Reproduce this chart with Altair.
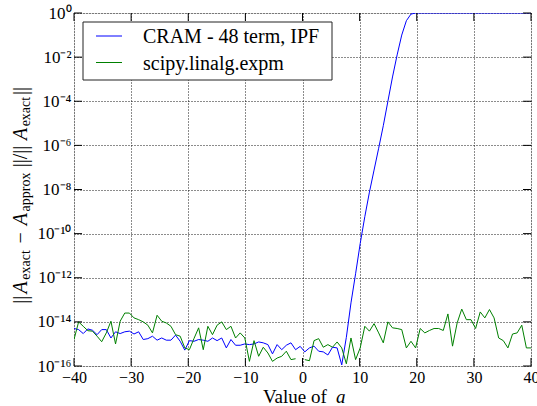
import altair as alt
import numpy as np
import pandas as pd

# ---------------- data ----------------
a_values = np.linspace(-40, 40, 100)

# log10 of the relative error
cram_log10 = [
    -14.30, -14.35, -14.53, -14.32, -14.38, -14.58, -14.35, -14.35, -14.73, -14.45,
    -14.53, -14.45, -14.42, -14.55, -14.45, -14.80, -14.76, -14.65, -14.83, -14.73,
    -14.83, -14.83, -14.60, -14.88, -15.28, -14.85, -14.88, -14.80, -14.83, -14.88,
    -14.73, -14.85, -14.73, -15.18, -14.80, -15.06, -15.06, -15.00, -15.03, -15.00,
    -14.91, -14.95, -15.03, -15.45, -15.03, -15.26, -15.06, -14.95, -15.26, -15.11,
    -15.36, -15.18, -15.10, -15.33, -15.36, -15.50, -15.15, -15.18, -15.95, -14.70,
    -13.14, -11.82, -10.45, -9.23, -8.12, -7.12, -6.13, -5.11, -4.00, -2.90,
    -1.90, -1.00, -0.35, -0.05, 0.0, 0.0, 0.0, 0.0, 0.0, 0.0,
    0.0, 0.0, 0.0, 0.0, 0.0, 0.0, 0.0, 0.0, 0.0, 0.0,
    0.0, 0.0, 0.0, 0.0, 0.0, 0.0, 0.0, 0.0, 0.0, 0.0,
]
expm_log10 = [
    -14.80, -14.00, -14.20, -14.40, -14.42, -14.65, -14.90, -14.50, -13.97, -15.00,
    -13.97, -13.60, -13.60, -13.82, -13.90, -14.00, -14.15, -14.50, -13.70, -13.97,
    -14.05, -14.20, -14.58, -14.65, -15.18, -15.26, -14.75, -14.27, -15.26, -14.20,
    -14.58, -14.15, -14.00, -14.35, -14.20, -14.73, -14.50, -14.73, -15.79, -14.85,
    -15.56, -15.15, -15.41, -15.79, -15.64, -15.56, -15.33, -15.71, -15.67, None,
    -15.71, -15.76, -14.85, -14.76, -15.15, -15.03, -15.15, -14.91, -15.18, -15.90,
    -14.73, -15.71, -15.18, -14.20, -14.42, -14.08, -14.50, -14.95, -14.00, -14.27,
    -14.30, -14.35, -15.18, -14.88, -15.18, -14.30, -14.50, -14.39, -14.30, -14.30,
    -14.39, -13.64, -15.10, -14.05, -13.42, -13.90, -13.90, -14.30, -13.55, -13.82,
    -13.44, -13.82, -14.73, -14.85, -15.18, -14.55, -14.50, -14.15, -15.18, -15.18,
]

series_names = ["CRAM - 48 term, IPF", "scipy.linalg.expm"]
series_colors = ["#0000ff", "#008000"]

x_ticks = [-40, -30, -20, -10, 0, 10, 20, 30, 40]
y_tick_exps = [0, -2, -4, -6, -8, -10, -12, -14, -16]
y_tick_labels = ["10⁰", "10⁻²", "10⁻⁴", "10⁻⁶", "10⁻⁸", "10⁻¹⁰", "10⁻¹²", "10⁻¹⁴", "10⁻¹⁶"]

# ---------------- build table ----------------
rows = []
for name, logs in zip(series_names, [cram_log10, expm_log10]):
    for a, l in zip(a_values, logs):
        rows.append({"a": float(a), "err": None if l is None else 10.0 ** l, "series": name})
df = pd.DataFrame(rows)

FONT = "Liberation Serif"
W, H = 457, 353
y_tick_vals = [10.0 ** e for e in y_tick_exps]
label_expr = "[" + ",".join("'%s'" % s for s in y_tick_labels) + "][round(-log(datum.value)/LN10/2)]"

xscale = alt.Scale(domain=[-40, 40], nice=False, zero=False)
yscale = alt.Scale(type="log", domain=[1e-16, 1], nice=False)

x_axis = alt.Axis(values=x_ticks, title=None, grid=True, ticks=False, domain=False,
                  labelFont=FONT, labelFontSize=16, labelColor="black", labelPadding=3,
                  gridColor="black", gridDash=[1, 2], gridOpacity=0.9, gridWidth=1,
                  labelFlush=False, labelOverlap=False)
y_axis = alt.Axis(values=y_tick_vals, labelExpr=label_expr, title=None, grid=True, ticks=False,
                  domain=False, labelFont=FONT, labelFontSize=17, labelColor="black",
                  labelPadding=3, gridColor="black", gridDash=[1, 2], gridOpacity=0.9,
                  gridWidth=1, labelOverlap=False)

lines = alt.Chart(df).mark_line(strokeWidth=1, clip=True, invalid="break-paths-filter-domains").encode(
    x=alt.X("a:Q", scale=xscale, axis=x_axis),
    y=alt.Y("err:Q", scale=yscale, axis=y_axis),
    color=alt.Color("series:N", scale=alt.Scale(domain=series_names, range=series_colors), legend=None),
    order="a:Q",
)

xt = pd.DataFrame({"t": x_ticks})
yt = pd.DataFrame({"v": y_tick_vals})
tick_len = 8
xt_bottom = alt.Chart(xt).mark_rule(color="black", strokeWidth=1).encode(
    x=alt.X("t:Q", scale=xscale, axis=x_axis), y=alt.value(H), y2=alt.value(H - tick_len))
xt_top = alt.Chart(xt).mark_rule(color="black", strokeWidth=1).encode(
    x=alt.X("t:Q", scale=xscale, axis=x_axis), y=alt.value(0), y2=alt.value(tick_len))
yt_left = alt.Chart(yt).mark_rule(color="black", strokeWidth=1).encode(
    y=alt.Y("v:Q", scale=yscale, axis=y_axis), x=alt.value(0), x2=alt.value(tick_len))
yt_right = alt.Chart(yt).mark_rule(color="black", strokeWidth=1).encode(
    y=alt.Y("v:Q", scale=yscale, axis=y_axis), x=alt.value(W - tick_len), x2=alt.value(W))

# ---------------- text pieces (titles with sub-scripts / italics, legend) ----------------
one = pd.DataFrame({"k": [0]})

def piece(text, x, y, size=20, style="normal", angle=0, align="center"):
    return alt.Chart(one).mark_text(
        text=text, font=FONT, fontSize=size, fontStyle=style, angle=angle,
        align=align, baseline="alphabetic", color="black").encode(x=alt.value(x), y=alt.value(y))

# y title pieces (rotated, reading upward), centred in their slots
yb, ys = -47, -44
ytitle = [
    piece("||", yb, 286.7, angle=270),
    piece("A", yb, 274.3, style="italic", angle=270),
    piece("exact", ys, 251.9, size=14, angle=270),
    piece("−", yb, 224.9, angle=270),
    piece("A", yb, 206.2, style="italic", angle=270),
    piece("approx", ys, 179.0, size=14, angle=270),
    piece("||/||", yb, 143.5, angle=270),
    piece("A", yb, 121.0, style="italic", angle=270),
    piece("exact", ys, 98.6, size=14, angle=270),
    piece("||", yb, 77.9, angle=270),
]
xtitle = [
    piece("Value of", 189, 389.5, size=19, align="left"),
    piece("a", 262, 389.5, size=19, style="italic", align="left"),
]

# legend box
legend_box = alt.Chart(one).mark_rect(fill="white", stroke="#222222", strokeWidth=1).encode(
    x=alt.value(9), x2=alt.value(258), y=alt.value(9), y2=alt.value(67))
legend_items = [legend_box]
for i, (name, col) in enumerate(zip(series_names, series_colors)):
    ly = 23 + 26.5 * i
    legend_items.append(alt.Chart(one).mark_rule(color=col, strokeWidth=1).encode(
        x=alt.value(22), x2=alt.value(48), y=alt.value(ly)))
    legend_items.append(piece(name, 69, ly + 7, align="left"))

chart = alt.layer(lines, xt_bottom, xt_top, yt_left, yt_right, *legend_items, *ytitle, *xtitle).properties(
    width=W, height=H,
    autosize=alt.AutoSizeParams(type="none"),
    padding={"left": 74, "top": 13, "right": 6, "bottom": 40},
).configure_view(stroke="black", strokeWidth=1).configure(background="white")

chart.save("out.html", embed_options={"renderer": "svg", "actions": False})
